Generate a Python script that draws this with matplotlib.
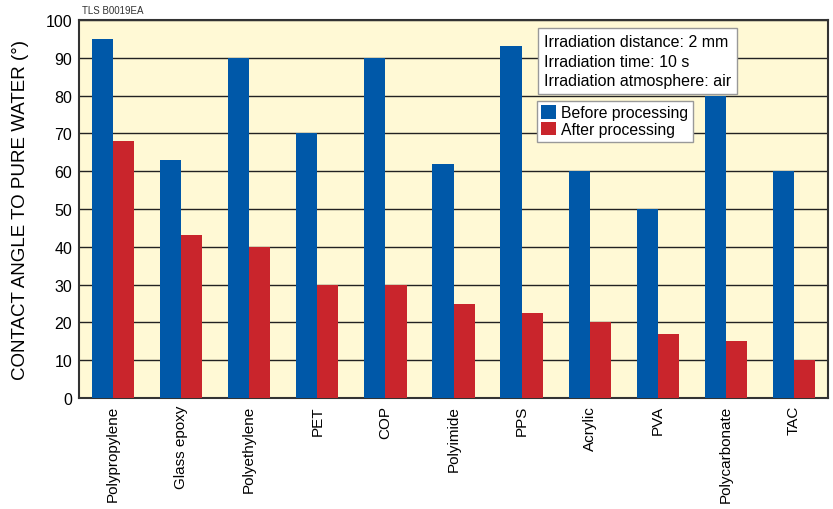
import matplotlib
matplotlib.use("Agg")
import matplotlib.pyplot as plt
import numpy as np

categories = ["Polypropylene", "Glass epoxy", "Polyethylene", "PET", "COP", "Polyimide",
              "PPS", "Acrylic", "PVA", "Polycarbonate", "TAC"]
before = [95, 63, 90, 70, 90, 62, 93, 60, 50, 80, 60]
after = [68, 43, 40, 30, 30, 25, 22.5, 20, 17, 15, 10]
yticks = [0, 10, 20, 30, 40, 50, 60, 70, 80, 90, 100]

plt.rcParams['font.family'] = ['Liberation Sans', 'DejaVu Sans']

fig = plt.figure(figsize=(8.33, 5.10), dpi=100)
ax = fig.add_axes([79/833, 1 - 399/510, 749/833, 378/510])
ax.set_facecolor('#FFF9D5')

x = np.arange(len(categories))
w = 0.31
blue = '#0058A8'
red = '#C9252C'
ax.set_axisbelow(True)
ax.yaxis.grid(True, color='#222222', linewidth=1.0)
ax.bar(x - w/2, before, width=w, color=blue, label='Before processing', zorder=3)
ax.bar(x + w/2, after, width=w, color=red, label='After processing', zorder=3)

ax.set_xlim(-0.5, len(categories) - 0.5)
ax.set_ylim(0, 100)
ax.set_yticks(yticks)
ax.set_yticklabels([str(t) for t in yticks], fontsize=11.5)
ax.set_xticks(x)
ax.set_xticklabels(categories, rotation=90, fontsize=11, va='top')
ax.tick_params(axis='both', length=0, pad=5)
for s in ax.spines.values():
    s.set_color('#333333')
    s.set_linewidth(1.5)

ax.set_ylabel('CONTACT ANGLE TO PURE WATER (°)', fontsize=13.5, labelpad=12)

fig.text(82/833, 1 - 11/510, 'TLS B0019EA', fontsize=7, color='#333333', va='center')

ax.text(0.6205, 0.963, 'Irradiation distance: 2 mm\nIrradiation time: 10 s\nIrradiation atmosphere: air',
        transform=ax.transAxes, fontsize=11.5, va='top', ha='left', linespacing=1.38,
        bbox=dict(boxstyle='square,pad=0.38', facecolor='white', edgecolor='#999999', linewidth=1),
        zorder=5)

leg = ax.legend(loc='upper left', bbox_to_anchor=(0.611, 0.787), fontsize=11.3,
                frameon=True, fancybox=False, handlelength=0.95, handleheight=0.95,
                handletextpad=0.3, borderpad=0.3, labelspacing=0.1, borderaxespad=0)
leg.get_frame().set_edgecolor('#999999')
leg.get_frame().set_linewidth(1)
leg.get_frame().set_alpha(1)

fig.savefig('out.png', dpi=100)
